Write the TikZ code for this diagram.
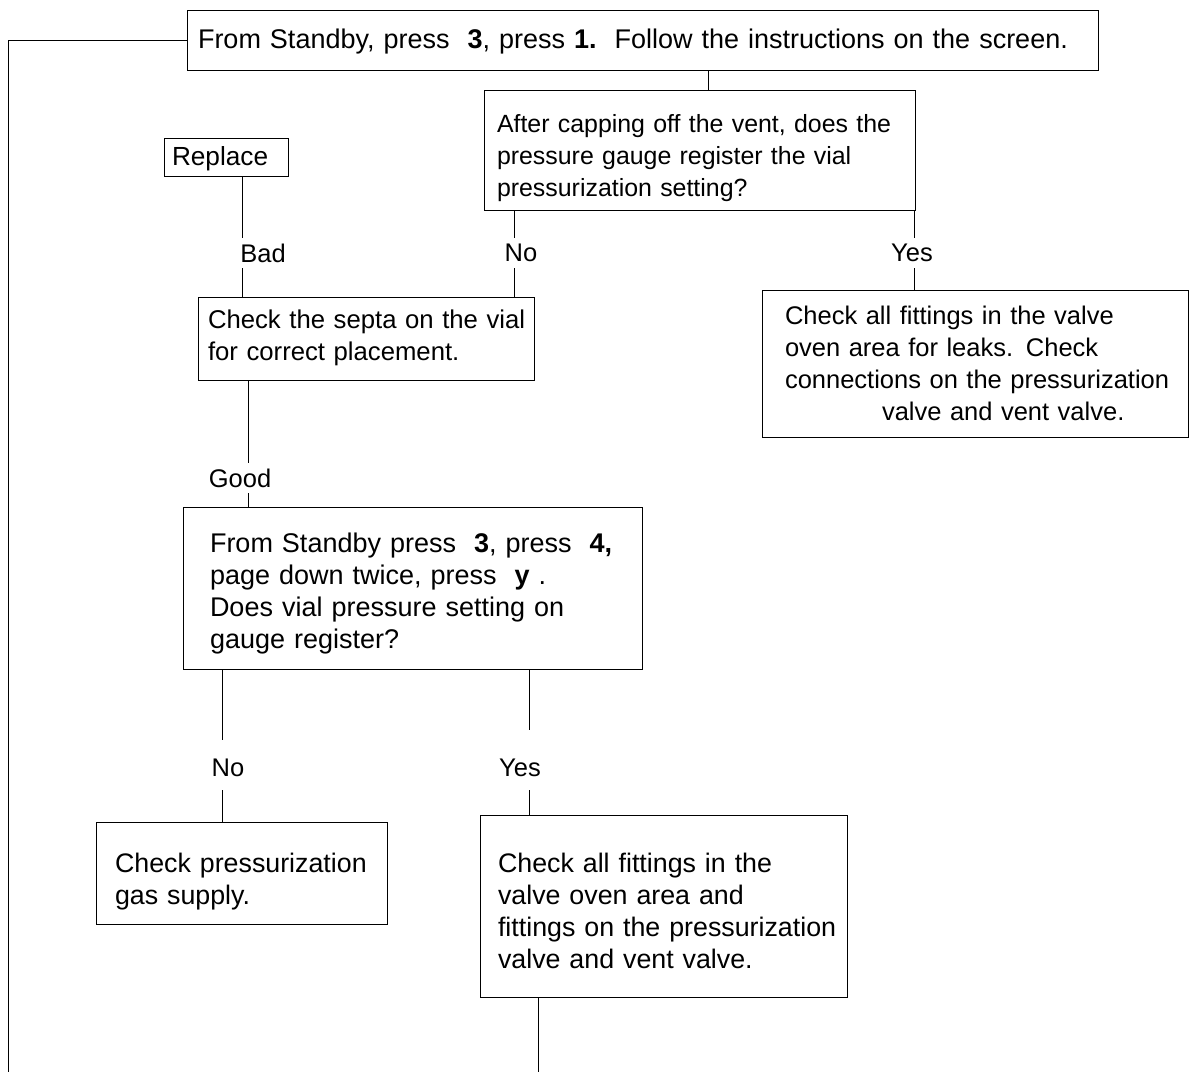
\documentclass[tikz,border=0pt]{standalone}
\usepackage{fontspec}
\setmainfont{Liberation Sans}
\newcommand{\setfs}[1]{\fontsize{#1}{32}\selectfont}
% struts fixing the height of a box's first line and the depth of its last line
\newcommand{\firstln}[1]{\rule{0pt}{#1pt}}
\newcommand{\lastln}{\rule[-8pt]{0pt}{8pt}}
\begin{document}
\begin{tikzpicture}[x=1pt,y=-1pt,
  box/.style={draw, line width=1pt, rectangle, align=left, inner ysep=0pt},
  lbl/.style={inner sep=0pt, minimum height=30pt, font=\setfs{25.5}},
  link/.style={line width=1pt}]
\useasboundingbox (0,0) rectangle (1190,1072);

% boxes
\node[box, minimum width=911pt, minimum height=60pt, inner xsep=11pt, text width=889pt, font=\setfs{27}] (top) at (642.5,40)
  {\mbox{\firstln{25}From Standby, press\ \ \textbf{3}, press \textbf{1.}\ \ Follow the instructions on the screen.\lastln}};
\node[box, minimum width=431pt, minimum height=120pt, inner xsep=13pt, text width=405pt, font=\setfs{24.9}] (q1) at (699.5,150)
  {\mbox{\firstln{37}After capping off the vent, does the}\\
   \mbox{pressure gauge register the vial}\\
   \mbox{pressurization setting?\lastln}};
\node[box, minimum width=124pt, minimum height=38pt, inner xsep=8pt, text width=108pt, font=\setfs{26.2}] (rep) at (226,157)
  {\mbox{\firstln{24}Replace\lastln}};
\node[box, minimum width=336pt, minimum height=83pt, inner xsep=10pt, text width=316pt, font=\setfs{25.7}] (septa) at (366,338.5)
  {\mbox{\firstln{19}Check the septa on the vial}\\
   \mbox{for correct placement.\lastln}};
\node[box, minimum width=426pt, minimum height=147pt, inner xsep=23pt, text width=380pt, font=\setfs{25.5}] (leaks) at (975,363.5)
  {\mbox{\firstln{25}Check all fittings in the valve}\\
   \mbox{oven area for leaks. Check}\\
   \mbox{connections on the pressurization}\\
   \mbox{\hspace*{97pt}valve and vent valve.\lastln}};
\node[box, minimum width=459pt, minimum height=162pt, inner xsep=27pt, text width=405pt, font=\setfs{27}] (gauge) at (412.5,588)
  {\mbox{\firstln{32}From Standby press\ \ \textbf{3}, press\ \ \textbf{4,}}\\
   \mbox{page down twice, press\ \ \textbf{y} .}\\
   \mbox{Does vial pressure setting on}\\
   \mbox{gauge register?\lastln}};
\node[box, minimum width=291pt, minimum height=102pt, inner xsep=19pt, text width=253pt, font=\setfs{26.8}] (gas) at (241.5,873)
  {\mbox{\firstln{38}Check pressurization}\\
   \mbox{gas supply.\lastln}};
\node[box, minimum width=367pt, minimum height=182pt, inner xsep=18pt, text width=331pt, font=\setfs{26.8}] (fit) at (663.5,906)
  {\mbox{\firstln{36}Check all fittings in the}\\
   \mbox{valve oven area and}\\
   \mbox{fittings on the pressurization}\\
   \mbox{valve and vent valve.\lastln}};

% branch labels
\node[lbl] (bad) at (263,253) {Bad};
\node[lbl] (no1) at (521,253) {No};
\node[lbl] (yes1) at (912,253) {Yes};
\node[lbl] (good) at (240,478) {Good};
\node[lbl, minimum height=44pt] (no2) at (228,768) {No};
\node[lbl, minimum height=44pt] (yes2) at (520,768) {Yes};

% x positions of the vertical connectors
\coordinate (xq) at (708,0);
\coordinate (xbad) at (242,0);
\coordinate (xno) at (514,0);
\coordinate (xyes) at (914,0);
\coordinate (xgood) at (248,0);
\coordinate (xno2) at (222,0);
\coordinate (xyes2) at (529,0);
\coordinate (loop) at (8,1072);
\coordinate (tail) at (538,1072);

% connectors
\draw[link] (top.south -| xq) -- (q1.north -| xq);
\draw[link] (rep.south -| xbad) -- (bad.north -| xbad);
\draw[link] (bad.south -| xbad) -- (septa.north -| xbad);
\draw[link] (q1.south -| xno) -- (no1.north -| xno);
\draw[link] (no1.south -| xno) -- (septa.north -| xno);
\draw[link] (q1.south -| xyes) -- (yes1.north -| xyes);
\draw[link] (yes1.south -| xyes) -- (leaks.north -| xyes);
\draw[link] (septa.south -| xgood) -- (good.north -| xgood);
\draw[link] (good.south -| xgood) -- (gauge.north -| xgood);
\draw[link] (gauge.south -| xno2) -- ([yshift=6pt]no2.north -| xno2);
\draw[link] (no2.south -| xno2) -- (gas.north -| xno2);
\draw[link] (gauge.south -| xyes2) -- ([yshift=16pt]yes2.north -| xyes2);
\draw[link] (yes2.south -| xyes2) -- (fit.north -| xyes2);
\draw[link] (fit.south -| tail) -- (tail);
\draw[link] (top.west) -| (loop);
\end{tikzpicture}
\end{document}
